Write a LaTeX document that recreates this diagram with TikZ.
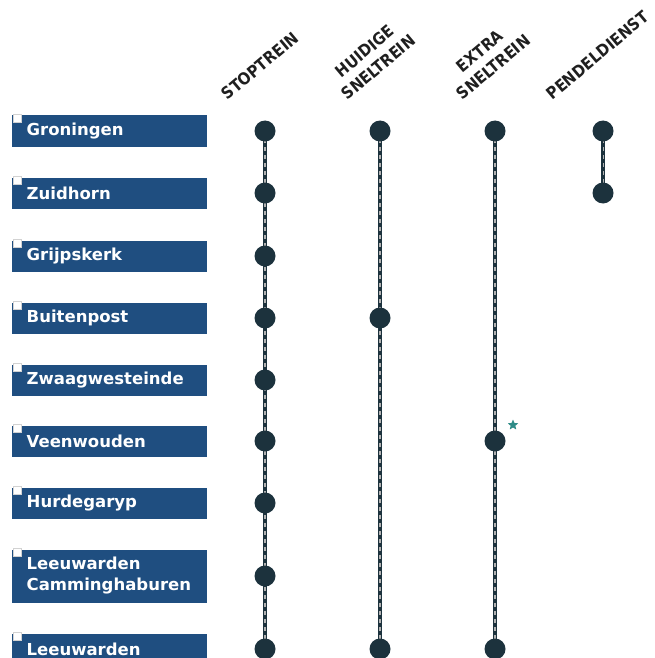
\documentclass[tikz,border=0pt]{standalone}
\usepackage{fontspec}
\setmainfont{DejaVu Sans}
\newfontfamily\headfont{DejaVu Sans Condensed}
\usetikzlibrary{backgrounds,shapes.geometric}
\definecolor{boxblue}{HTML}{1F4E80}
\definecolor{dotdark}{HTML}{1C323D}
\definecolor{starteal}{HTML}{2F8C88}
\begin{document}
\begin{tikzpicture}[x=1pt,y=-1pt,
  station/.style={fill=boxblue, text=white, font=\bfseries\fontsize{16.5}{21}\selectfont,
    text width=166pt, inner xsep=14.5pt, inner ysep=0pt, minimum height=31pt,
    align=left, anchor=west},
  cornerbox/.style={fill=white, draw=gray!35, line width=0.3pt},
  halt/.style={circle, fill=dotdark, minimum size=21pt, inner sep=0pt},
  hdr/.style={font=\headfont\bfseries\fontsize{16.5}{21}\selectfont, rotate=40, anchor=south west,
    inner sep=0pt, align=center, text=black!88},
  track/.style={line width=4.5pt, draw=dotdark},
  ties/.style={line width=1.4pt, draw=gray!60, dash pattern=on 4pt off 4pt},
  shuttle/.style={line width=3.5pt, draw=dotdark},
  shuttleties/.style={line width=1pt, draw=gray!60, dash pattern=on 4pt off 4pt},
]
\useasboundingbox (0,0) rectangle (654,658);
\clip (0,0) rectangle (654,658);

% column headings
\node[hdr] (hstop) at (228,101) {STOPTREIN};
\node[hdr] (hhuid) at (348,101) {HUIDIGE\\SNELTREIN};
\node[hdr] (hextra) at (463,101) {EXTRA\\SNELTREIN};
\node[hdr] (hpend) at (553,101) {PENDELDIENST};

% station boxes
\node[station] (g)  at (12,131) {Groningen};
\node[station] (z)  at (12,193) {Zuidhorn};
\node[station] (gr) at (12,256) {Grijpskerk};
\node[station] (b)  at (12,318) {Buitenpost};
\node[station] (zw) at (12,380) {Zwaagwesteinde};
\node[station] (v)  at (12,441) {Veenwouden};
\node[station] (hu) at (12,503) {Hurdegaryp};
\node[station, minimum height=53pt] (lc) at (12,576) {Leeuwarden\\Camminghaburen};
\node[station] (l)  at (12,649) {Leeuwarden};

% small white corner squares
\foreach \n in {g,z,gr,b,zw,v,hu,lc,l}
  \draw[cornerbox] ([xshift=1pt,yshift=1pt]\n.north west) rectangle ++(8,8);

% stoptrein stops
\node[halt] (s1) at (265,131) {};
\node[halt] (s2) at (265,193) {};
\node[halt] (s3) at (265,256) {};
\node[halt] (s4) at (265,318) {};
\node[halt] (s5) at (265,380) {};
\node[halt] (s6) at (265,441) {};
\node[halt] (s7) at (265,503) {};
\node[halt] (s8) at (265,576) {};
\node[halt] (s9) at (265,649) {};

% current fast train
\node[halt] (h1) at (380,131) {};
\node[halt] (h4) at (380,318) {};
\node[halt] (h9) at (380,649) {};

% extra fast train
\node[halt] (e1) at (495,131) {};
\node[halt] (e6) at (495,441) {};
\node[halt] (e9) at (495,649) {};
\node[star, star points=5, star point ratio=2.2, fill=starteal, minimum size=11pt,
  inner sep=0pt] (st) at (513,425) {};

% shuttle
\node[halt] (p1) at (603,131) {};
\node[halt] (p2) at (603,193) {};

% tracks behind the stops
\begin{scope}[on background layer]
  \foreach \a/\b in {s1/s9, h1/h9, e1/e9} {
    \draw[track] (\a.center) -- (\b.center);
    \draw[ties] (\a.center) -- (\b.center);
  }
  \draw[shuttle] (p1.center) -- (p2.center);
  \draw[shuttleties] (p1.center) -- (p2.center);
\end{scope}
\end{tikzpicture}
\end{document}
